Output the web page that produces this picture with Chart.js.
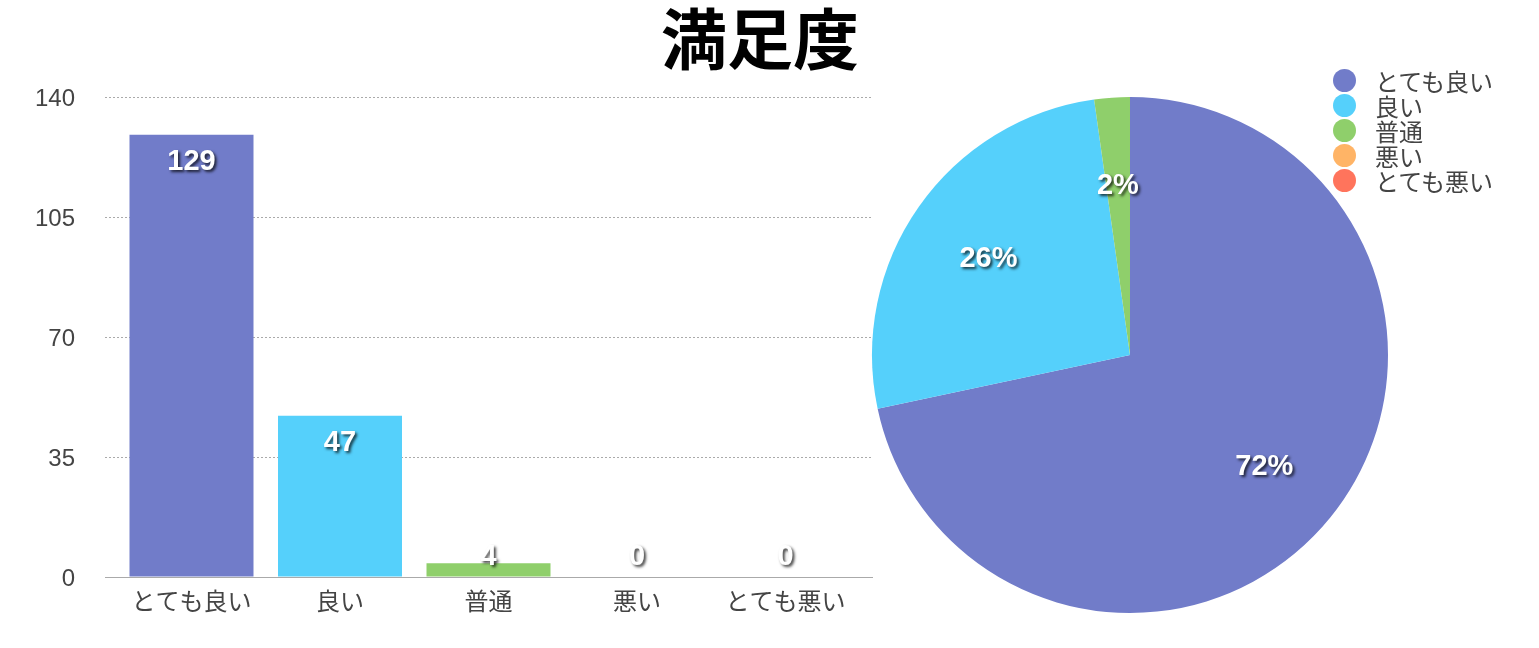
<!DOCTYPE html>
<html><head><meta charset="utf-8">
<script src="https://cdn.jsdelivr.net/npm/chart.js@4"></script>
<style>
html,body{margin:0;padding:0;background:#fff;width:1539px;height:648px;overflow:hidden;}
#title{position:absolute;left:560px;width:400px;top:-2px;text-align:center;font-family:"Noto Sans CJK JP";font-weight:bold;font-size:66px;line-height:74px;color:#000;}
#barWrap{position:absolute;left:0;top:0;width:880px;height:648px;}
#pieWrap{position:absolute;left:866px;top:91px;width:528px;height:528px;}
#legend{position:absolute;left:1333px;top:68px;font-family:"Noto Sans CJK JP";font-size:24px;color:#444;}
.li{height:25px;line-height:25px;position:relative;padding-left:42px;white-space:nowrap;}
.dot{position:absolute;left:0;top:1px;width:23px;height:23px;border-radius:50%;}
</style></head>
<body>
<div id="title">満足度</div>
<div id="barWrap"><canvas id="bar"></canvas></div>
<div id="pieWrap"><canvas id="pie"></canvas></div>
<div id="legend"></div>
<script>
const categories = ['とても良い','良い','普通','悪い','とても悪い'];
const counts = [129, 47, 4, 0, 0];
const colors = ['#717CC9','#55D0FB','#8FCF6B','#FFB466','#FF745C'];
const yTicks = [0, 35, 70, 105, 140];

const labelFont = 'bold 29px "Liberation Sans", Arial, sans-serif';
function shadowText(ctx, txt, x, y, font){
  ctx.save();
  ctx.font = font;
  ctx.textAlign='center'; ctx.textBaseline='middle';
  ctx.shadowColor='rgba(0,0,0,0.75)'; ctx.shadowOffsetX=2; ctx.shadowOffsetY=2; ctx.shadowBlur=3;
  ctx.fillStyle='#fff';
  ctx.fillText(txt, x, y);
  ctx.restore();
}

const barLabels = {
  id:'barLabels',
  afterDatasetsDraw(chart){
    const ctx = chart.ctx;
    const meta = chart.getDatasetMeta(0);
    const base = chart.scales.y.getPixelForValue(0);
    meta.data.forEach((el,i)=>{
      const y = Math.min(el.y + 27, base - 20);
      shadowText(ctx, String(counts[i]), el.x, y, labelFont);
    });
  }
};

const pad = 0.0825;
new Chart(document.getElementById('bar'), {
  type:'bar',
  data:{datasets:[{data:counts.map((c,i)=>({x:i,y:c})), backgroundColor:colors, borderWidth:0, barPercentage:0.835, categoryPercentage:1}]},
  options:{
    responsive:true, maintainAspectRatio:false, animation:false,
    layout:{padding:{top:97, right:8, left:0, bottom:0}},
    plugins:{legend:{display:false}, tooltip:{enabled:false}},
    scales:{
      x:{
        type:'linear', offset:false, min:-0.5-pad, max:categories.length-0.5+pad,
        afterBuildTicks(s){ s.ticks = categories.map((c,i)=>({value:i})); },
        grid:{display:false, drawTicks:false, offset:false},
        border:{display:true, color:'#aaa', width:1},
        ticks:{color:'#444', font:{family:'"Noto Sans CJK JP"', size:24}, padding:9, autoSkip:false, maxRotation:0,
          callback:(v)=>categories[v]},
        afterFit(s){ s.height = 71; }
      },
      y:{
        min:0, max:140,
        afterBuildTicks(s){ s.ticks = yTicks.map(v=>({value:v})); },
        grid:{color:'#aaa', drawTicks:false},
        border:{display:false, dash:[2,2]},
        ticks:{color:'#444', font:{family:'"Liberation Sans", Arial', size:24}, padding:30, labelOffset:2},
        afterFit(s){ s.width = 105; }
      }
    }
  },
  plugins:[barLabels]
});

const total = counts.reduce((a,b)=>a+b,0);
const pieLabels = {
  id:'pieLabels',
  afterDatasetsDraw(chart){
    const ctx = chart.ctx;
    const meta = chart.getDatasetMeta(0);
    meta.data.forEach((arc,i)=>{
      if(!counts[i]) return;
      const mid = (arc.startAngle + arc.endAngle)/2;
      const r = arc.outerRadius*0.67;
      const x = arc.x + Math.cos(mid)*r, y = arc.y + Math.sin(mid)*r + 3;
      shadowText(ctx, Math.round(counts[i]/total*100)+'%', x, y, labelFont);
    });
  }
};

new Chart(document.getElementById('pie'), {
  type:'pie',
  data:{labels:categories, datasets:[{data:counts, backgroundColor:colors, borderWidth:0}]},
  options:{
    responsive:true, maintainAspectRatio:false, animation:false,
    layout:{padding:6},
    plugins:{legend:{display:false}, tooltip:{enabled:false}}
  },
  plugins:[pieLabels]
});

const lg = document.getElementById('legend');
categories.forEach((c,i)=>{
  const d = document.createElement('div'); d.className='li';
  d.innerHTML = '<span class="dot" style="background:'+colors[i]+'"></span>'+c;
  lg.appendChild(d);
});
</script>
</body></html>
